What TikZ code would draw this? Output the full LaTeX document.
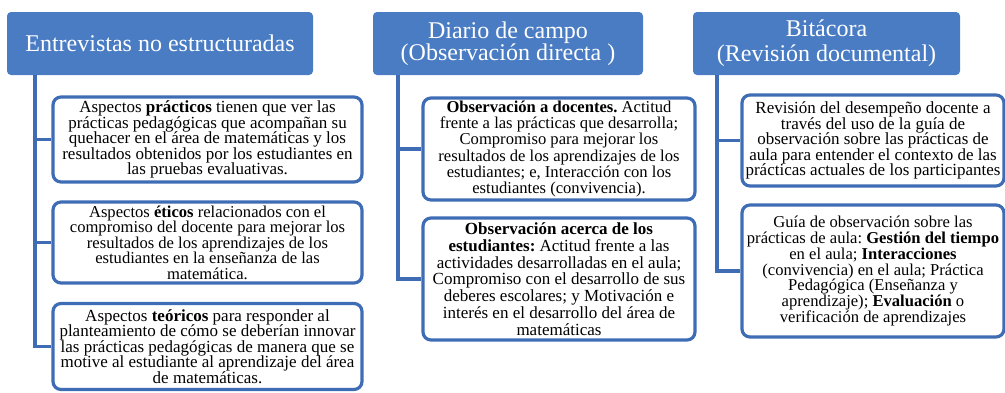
\documentclass[tikz,border=0pt]{standalone}
\usepackage{fontspec}
\setmainfont{Liberation Serif}
\frenchspacing
\definecolor{hdr}{HTML}{4A7CC4}
\definecolor{edge}{HTML}{3F6DB5}
\begin{document}
\begin{tikzpicture}[x=1pt,y=-1pt,
  header/.style={fill=hdr,rounded corners=4pt,text=white,align=center,
    inner sep=0pt,minimum height=63pt,font=\fontsize{24}{22}\selectfont},
  itembox/.style={draw=edge,line width=3.2pt,fill=white,rounded corners=8pt,
    align=center,inner sep=1pt,font=\fontsize{17}{15.5}\selectfont},
  link/.style={draw=edge,line width=3.6pt}]
\useasboundingbox (0,0) rectangle (1005,392);

% headers
\node[header,minimum width=306pt] (h1) at (160,43.5) {Entrevistas no estructuradas};
\node[header,minimum width=270pt] (h2) at (508,43.5) {Diario de campo\\(Observación directa )};
\node[header,minimum width=267pt,font=\fontsize{24}{25}\selectfont] (h3) at (826.5,43.5) {Bitácora\\(Revisión documental)};

% left column
\node[itembox,minimum width=309pt,minimum height=85pt] (b11) at (207.5,139.5)
 {Aspectos \textbf{prácticos} tienen que ver las\\prácticas pedagógicas que acompañan su\\quehacer en el área de matemáticas y los\\resultados obtenidos por los estudiantes en\\las pruebas evaluativas.};
\node[itembox,minimum width=309pt,minimum height=81pt,font=\fontsize{16.6}{15.5}\selectfont] (b12) at (207.5,242.5)
 {Aspectos \textbf{éticos} relacionados con el\\compromiso del docente para mejorar los\\resultados de los aprendizajes de los\\estudiantes en la enseñanza de las\\matemática.};
\node[itembox,minimum width=309pt,minimum height=86pt] (b13) at (207.5,346.5)
 {Aspectos \textbf{teóricos} para responder al\\planteamiento de cómo se deberían innovar\\las prácticas pedagógicas de manera que se\\motive al estudiante al aprendizaje del área\\de matemáticas.};

% middle column
\node[itembox,minimum width=272pt,minimum height=102pt,font=\fontsize{16.6}{16.2}\selectfont] (b21) at (559,149)
 {\textbf{Observación a docentes.} Actitud\\frente a las prácticas que desarrolla;\\Compromiso para mejorar los\\resultados de los aprendizajes de los\\estudiantes; e, Interacción con los\\estudiantes (convivencia).};
\node[itembox,minimum width=272pt,minimum height=122pt,font=\fontsize{17}{16.8}\selectfont] (b22) at (559,279)
 {\textbf{Observación acerca de los}\\\textbf{estudiantes:} Actitud frente a las\\actividades desarrolladas en el aula;\\Compromiso con el desarrollo de sus\\deberes escolares; y Motivación e\\interés en el desarrollo del área de\\matemáticas};

% right column
\node[itembox,minimum width=262pt,minimum height=91pt] (b31) at (873,140.5)
 {Revisión del desempeño docente a\\través del uso de la guía de\\observación sobre las prácticas de\\aula para entender el contexto de las\\prácticas actuales de los participantes};
\node[itembox,minimum width=262pt,minimum height=132pt,font=\fontsize{16.6}{15.7}\selectfont] (b32) at (873,271)
 {Guía de observación sobre las\\prácticas de aula: \textbf{Gestión del tiempo}\\en el aula; \textbf{Interacciones}\\(convivencia) en el aula; Práctica\\Pedagógica (Enseñanza y\\aprendizaje); \textbf{Evaluación} o\\verificación de aprendizajes};

% trunks
\coordinate (t1) at (35,75);
\coordinate (t2) at (398,75);
\coordinate (t3) at (717,75);
\draw[link] (t1) |- (b13.west);
\draw[link] (t1 |- b11.west) -- (b11.west);
\draw[link] (t1 |- b12.west) -- (b12.west);
\draw[link] (t2) |- (b22.west);
\draw[link] (t2 |- b21.west) -- (b21.west);
\draw[link] (t3) |- (b32.west);
\draw[link] (t3 |- b31.west) -- (b31.west);
\end{tikzpicture}
\end{document}
